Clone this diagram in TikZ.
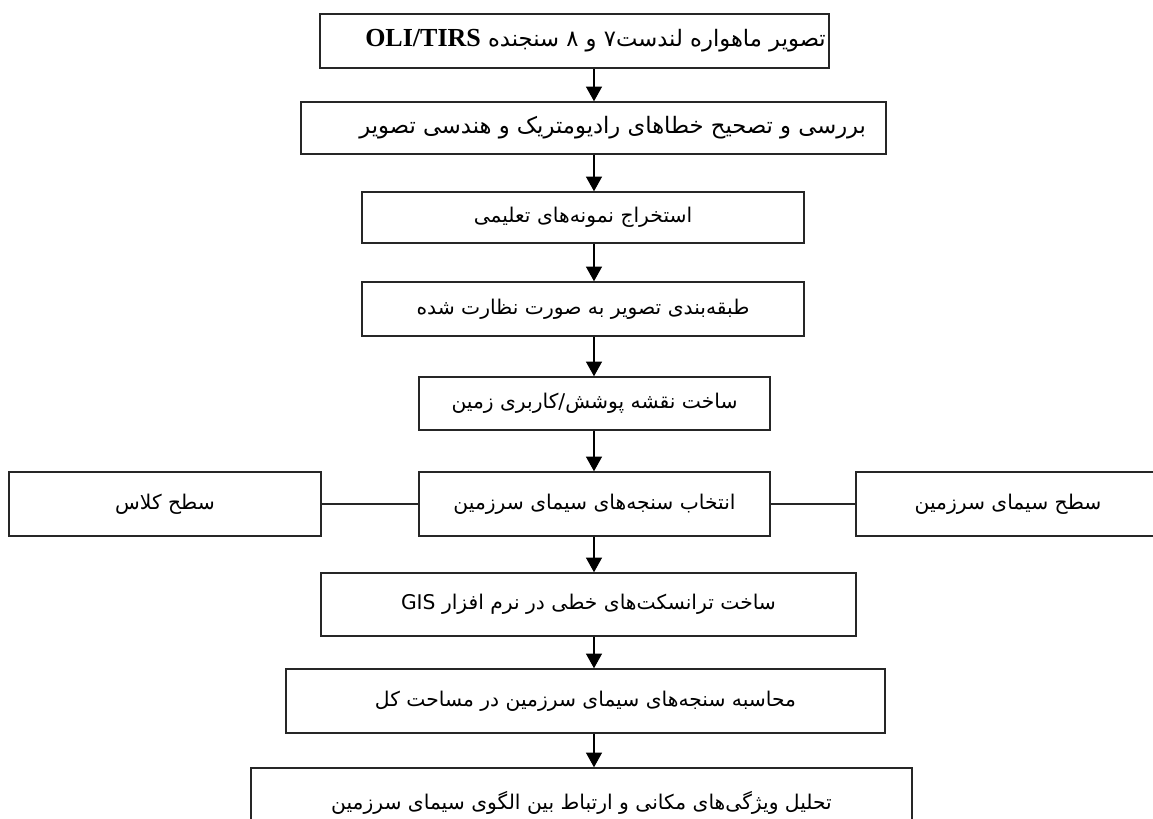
\documentclass[tikz,border=0pt]{standalone}
\usepackage{fontspec}
\setmainfont{DejaVu Sans}
\newfontfamily\fa[Script=Arabic]{DejaVu Sans}
\newfontfamily\lserif{Liberation Serif}
\TeXXeTstate=1
\usetikzlibrary{arrows.meta}
\newcommand{\rtl}[1]{\raisebox{2pt}{\beginR #1\endR}}
\begin{document}
\begin{tikzpicture}[x=0.75pt,y=-0.75pt,
  box/.style={draw=black!85, line width=1.1pt, rectangle, inner sep=0pt, font=\fa\fontsize{15.2}{17}\selectfont},
  big/.style={font=\fa\fontsize{17}{19}\selectfont},
  arr/.style={draw=black, line width=0.9pt, -{Triangle[width=12pt,length=11pt]}},
  ln/.style={draw=black!85, line width=0.9pt}]
\useasboundingbox (0,0) rectangle (1153,818);
\clip (0,0) rectangle (1153,818);
\fill[white] (0,0) rectangle (1153,818);
\coordinate (sp) at (594,0);

\node[box, big, minimum width=381.75pt, minimum height=40.5pt] (b1) at (574.5,41)
  {\makebox[381.75pt][r]{\rtl{تصویر ماهواره لندست۷ و ۸ سنجنده \beginL{\lserif\bfseries\fontsize{19.5}{21}\selectfont OLI/TIRS}\endL}\hspace*{2.5pt}}};
\node[box, big, minimum width=438.75pt, minimum height=39pt] (b2) at (593.5,128)
  {\makebox[438.75pt][r]{\rtl{بررسی و تصحیح خطاهای رادیومتریک و هندسی تصویر}\hspace*{15pt}}};
\node[box, minimum width=331.5pt, minimum height=38.25pt] (b3) at (583,217.5)
  {\rtl{استخراج نمونه‌های تعلیمی}};
\node[box, minimum width=331.5pt, minimum height=40.5pt] (b4) at (583,309)
  {\rtl{طبقه‌بندی تصویر به صورت نظارت شده}};
\node[box, minimum width=263.25pt, minimum height=39.75pt] (b5) at (594.5,403.5)
  {\rtl{ساخت نقشه پوشش/کاربری زمین}};
\node[box, minimum width=263.25pt, minimum height=48pt] (b6) at (594.5,504)
  {\rtl{انتخاب سنجه‌های سیمای سرزمین}};
\node[box, minimum width=234pt, minimum height=48pt] (L) at (165,504)
  {\rtl{سطح کلاس}};
\node[box, minimum width=228pt, minimum height=48pt] (R) at (1008,504)
  {\rtl{سطح سیمای سرزمین}};
\node[box, minimum width=401.25pt, minimum height=47.25pt] (b7) at (588.5,604.5)
  {\rtl{ساخت ترانسکت‌های خطی در نرم افزار \beginL GIS\endL}};
\node[box, minimum width=449.25pt, minimum height=48pt] (b8) at (585.5,701)
  {\rtl{محاسبه سنجه‌های سیمای سرزمین در مساحت کل}};
\node[box, minimum width=495.75pt, minimum height=52.5pt] (b9) at (581.5,803)
  {\rtl{تحلیل ویژگی‌های مکانی و ارتباط بین الگوی سیمای سرزمین}};

\draw[arr] (b1.south -| sp) -- (b2.north -| sp);
\draw[arr] (b2.south -| sp) -- (b3.north -| sp);
\draw[arr] (b3.south -| sp) -- (b4.north -| sp);
\draw[arr] (b4.south -| sp) -- (b5.north -| sp);
\draw[arr] (b5.south -| sp) -- (b6.north -| sp);
\draw[arr] (b6.south -| sp) -- (b7.north -| sp);
\draw[arr] (b7.south -| sp) -- (b8.north -| sp);
\draw[arr] (b8.south -| sp) -- (b9.north -| sp);
\draw[ln] (L.east) -- (b6.west);
\draw[ln] (b6.east) -- (R.west);
\end{tikzpicture}
\end{document}
